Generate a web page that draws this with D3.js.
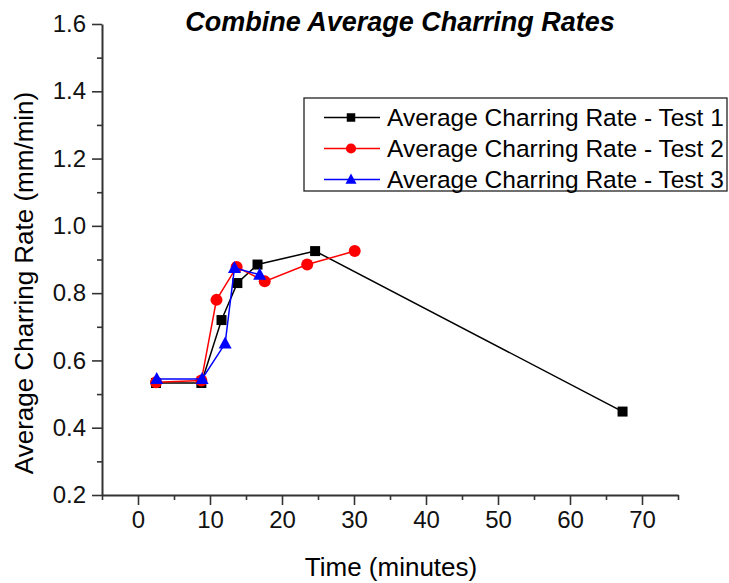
<!DOCTYPE html>
<html>
<head>
<meta charset="utf-8">
<script src="https://cdn.jsdelivr.net/npm/d3@7"></script>
<style>
  body { margin: 0; background: #fff; }
  svg { font-family: "Liberation Sans", Arial, sans-serif; }
</style>
</head>
<body>
<div id="chart"></div>
<script>
// data
const test1Time = [2.5, 8.8, 11.6, 13.8, 16.6, 24.6, 67.3];
const test1Rate = [0.533, 0.533, 0.72, 0.83, 0.885, 0.925, 0.448];
const test2Time = [2.5, 8.8, 10.9, 13.7, 17.6, 23.5, 30.1];
const test2Rate = [0.535, 0.54, 0.78, 0.878, 0.835, 0.885, 0.925];
const test3Time = [2.6, 8.9, 12.1, 13.4, 16.9];
const test3Rate = [0.545, 0.545, 0.65, 0.875, 0.855];

const xTicks = [0, 10, 20, 30, 40, 50, 60, 70];
const xMinor = [-5, 5, 15, 25, 35, 45, 55, 65, 75];
const yTicks = [0.2, 0.4, 0.6, 0.8, 1.0, 1.2, 1.4, 1.6];
const yMinor = [0.3, 0.5, 0.7, 0.9, 1.1, 1.3, 1.5];

const series = [
    { name: 'Average Charring Rate - Test 1', color: '#000000', symbol: 'square', time: test1Time, rate: test1Rate },
    { name: 'Average Charring Rate - Test 2', color: '#ff0000', symbol: 'circle', time: test2Time, rate: test2Rate },
    { name: 'Average Charring Rate - Test 3', color: '#0000ff', symbol: 'triangle', time: test3Time, rate: test3Rate }
];

const width = 729;
const height = 583;
const margin = { left: 102, right: 51, top: 24, bottom: 88 };

const svg = d3.select('#chart')
    .append('svg')
    .attr('width', width)
    .attr('height', height);

const x = d3.scaleLinear().domain([-5, 75]).range([margin.left, width - margin.right]);
const y = d3.scaleLinear().domain([0.2, 1.6]).range([height - margin.bottom, margin.top]);

function drawSymbol(sel, symbol, color, k) {
    if (symbol === 'square') {
        sel.append('rect')
            .attr('x', -5 * k).attr('y', -5 * k)
            .attr('width', 10 * k).attr('height', 10 * k)
            .attr('fill', color);
    } else if (symbol === 'circle') {
        sel.append('circle')
            .attr('r', 6 * k)
            .attr('fill', color);
    } else {
        sel.append('path')
            .attr('d', `M0,${-7 * k} L${6.5 * k},${5 * k} L${-6.5 * k},${5 * k} Z`)
            .attr('fill', color);
    }
}

// axes
const axisColor = '#333';
svg.append('g')
    .attr('transform', `translate(0,${y(0.2)})`)
    .call(d3.axisBottom(x).tickValues(xTicks).tickSize(10).tickSizeOuter(0).tickPadding(6));
svg.append('g')
    .attr('transform', `translate(0,${y(0.2)})`)
    .call(d3.axisBottom(x).tickValues(xMinor).tickSize(5).tickFormat(''))
    .select('.domain').remove();

svg.append('g')
    .attr('transform', `translate(${x(-5)},0)`)
    .call(d3.axisLeft(y).tickValues(yTicks).tickSize(10).tickSizeOuter(0).tickPadding(6).tickFormat(d3.format('.1f')));
svg.append('g')
    .attr('transform', `translate(${x(-5)},0)`)
    .call(d3.axisLeft(y).tickValues(yMinor).tickSize(5).tickFormat(''))
    .select('.domain').remove();

svg.selectAll('.domain').attr('stroke', axisColor).attr('stroke-width', 2);
svg.selectAll('.tick line').attr('stroke', axisColor).attr('stroke-width', 1.6);
svg.selectAll('.tick text').attr('font-size', 24).attr('fill', '#111')
    .attr('font-family', '"Liberation Sans", Arial, sans-serif');

// titles
svg.append('text')
    .attr('x', 400).attr('y', 31)
    .attr('text-anchor', 'middle')
    .attr('font-size', 27).attr('font-weight', 'bold').attr('font-style', 'italic')
    .text('Combine Average Charring Rates');

svg.append('text')
    .attr('x', 391).attr('y', 576)
    .attr('text-anchor', 'middle')
    .attr('font-size', 26)
    .text('Time (minutes)');

svg.append('text')
    .attr('transform', 'translate(33,283) rotate(-90)')
    .attr('text-anchor', 'middle')
    .attr('font-size', 26)
    .text('Average Charring Rate (mm/min)');

// lines and markers
const line = d3.line().x(d => x(d[0])).y(d => y(d[1]));

series.forEach(s => {
    const pts = s.time.map((t, i) => [t, s.rate[i]]);
    svg.append('path')
        .datum(pts)
        .attr('d', line)
        .attr('fill', 'none')
        .attr('stroke', s.color)
        .attr('stroke-width', 1.5);
    svg.append('g')
        .selectAll('g')
        .data(pts)
        .join('g')
        .attr('transform', d => `translate(${x(d[0])},${y(d[1])})`)
        .each(function () { drawSymbol(d3.select(this), s.symbol, s.color, 1); });
});

// legend
const legend = svg.append('g').attr('transform', 'translate(304,98)');
legend.append('rect')
    .attr('width', 423).attr('height', 93)
    .attr('fill', '#fff')
    .attr('stroke', '#222').attr('stroke-width', 1.3);

series.forEach((s, i) => {
    const row = legend.append('g').attr('transform', `translate(0,${19.5 + i * 31})`);
    row.append('line')
        .attr('x1', 20).attr('x2', 76)
        .attr('stroke', s.color).attr('stroke-width', 1.3);
    drawSymbol(row.append('g').attr('transform', 'translate(47,0)'), s.symbol, s.color, 0.85);
    row.append('text')
        .attr('x', 83).attr('y', 8.5)
        .attr('font-size', 24.5)
        .text(s.name);
});
</script>
</body>
</html>
